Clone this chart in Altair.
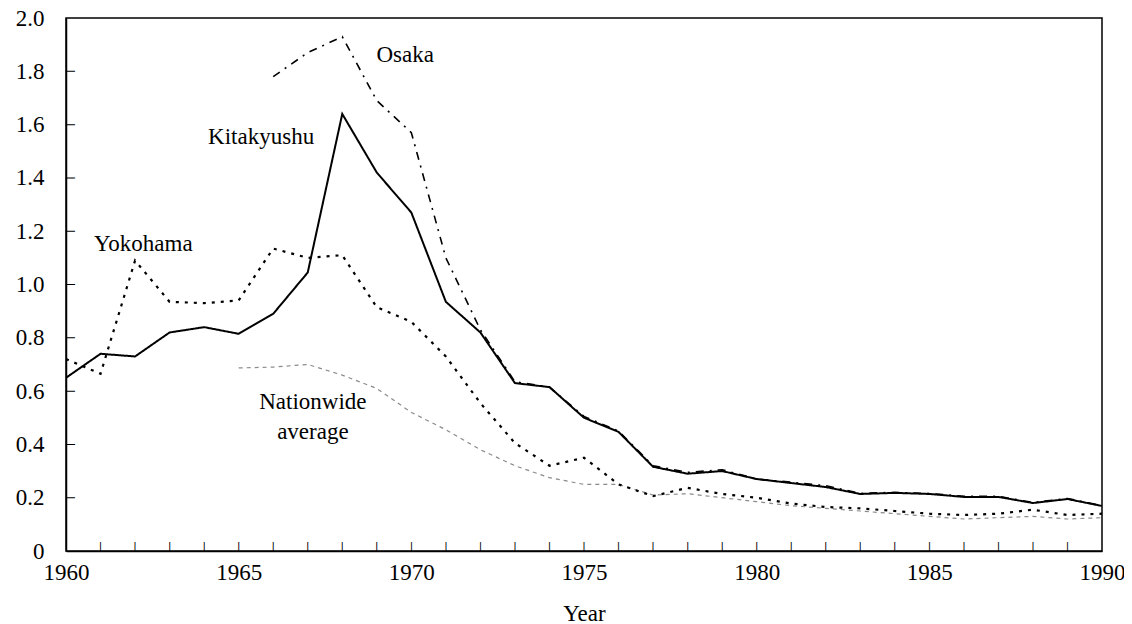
import altair as alt
import pandas as pd

# ---- data ----
years_k = list(range(1960, 1991))
kitakyushu = [0.65, 0.74, 0.73, 0.82, 0.84, 0.815, 0.89, 1.045, 1.64, 1.42, 1.27,
              0.935, 0.82, 0.63, 0.615, 0.50, 0.447, 0.316, 0.29, 0.30, 0.27,
              0.255, 0.24, 0.214, 0.218, 0.214, 0.203, 0.203, 0.18, 0.195, 0.169]

years_o = list(range(1966, 1991))
osaka = [1.78, 1.87, 1.93, 1.69, 1.57, 1.10, 0.83, 0.635, 0.615, 0.505, 0.45,
         0.32, 0.295, 0.305, 0.27, 0.258, 0.245, 0.216, 0.22, 0.216, 0.205,
         0.205, 0.182, 0.197, 0.17]

years_y = list(range(1960, 1991))
yokohama = [0.72, 0.665, 1.09, 0.935, 0.93, 0.94, 1.135, 1.10, 1.11, 0.915, 0.86,
            0.73, 0.555, 0.405, 0.32, 0.35, 0.25, 0.206, 0.237, 0.214, 0.20,
            0.178, 0.165, 0.16, 0.15, 0.14, 0.135, 0.14, 0.155, 0.135, 0.14]

years_n = list(range(1965, 1991))
nationwide = [0.687, 0.69, 0.70, 0.66, 0.61, 0.52, 0.455, 0.38, 0.32, 0.275,
              0.25, 0.25, 0.21, 0.215, 0.20, 0.185, 0.17, 0.16, 0.15, 0.14,
              0.13, 0.12, 0.125, 0.13, 0.12, 0.125]

label_text = ["Osaka", "Kitakyushu", "Yokohama", "Nationwide", "average"]
label_year = [1969.82, 1965.65, 1962.24, 1967.15, 1967.15]
label_value = [1.86, 1.553, 1.152, 0.559, 0.447]

y_labels = [0, 0.2, 0.4, 0.6, 0.8, 1.0, 1.2, 1.4, 1.6, 1.8, 2.0]
y_tick_values = [0.2, 0.4, 0.6, 0.8, 1.0, 1.2, 1.4, 1.6, 1.8]
x_labels = [1960, 1965, 1970, 1975, 1980, 1985, 1990]
x_tick_years = list(range(1961, 1990))

X_DOMAIN = [1960, 1990]
Y_DOMAIN = [0, 2.0]

rows = []
for yr, v in zip(years_k, kitakyushu):
    rows.append({"year": yr, "value": v, "series": "Kitakyushu"})
for yr, v in zip(years_o, osaka):
    rows.append({"year": yr, "value": v, "series": "Osaka"})
for yr, v in zip(years_y, yokohama):
    rows.append({"year": yr, "value": v, "series": "Yokohama"})
for yr, v in zip(years_n, nationwide):
    rows.append({"year": yr, "value": v, "series": "Nationwide average"})
df = pd.DataFrame(rows)

labels_df = pd.DataFrame({"text": label_text, "year": label_year, "value": label_value})
# tick anchors sit on the axis lines (domain minimum of the other scale)
ytick_df = pd.DataFrame({"value": y_tick_values, "year": [X_DOMAIN[0]] * len(y_tick_values)})
xtick_df = pd.DataFrame({"year": x_tick_years, "value": [Y_DOMAIN[0]] * len(x_tick_years)})

W, H = 1036, 533
FONT = "Liberation Serif"
TICK_FONT = 8

xscale = alt.Scale(domain=X_DOMAIN, nice=False, zero=False)
yscale = alt.Scale(domain=Y_DOMAIN, nice=False)

x_enc = alt.X("year:Q", scale=xscale, title="Year",
              axis=alt.Axis(values=x_labels, format="d", ticks=False, labelFlush=False,
                            labelPadding=10, titlePadding=18, grid=False))
y_enc = alt.Y("value:Q", scale=yscale, title=None,
              axis=alt.Axis(values=y_labels, ticks=False, labelPadding=22, labelFlush=False,
                            grid=False,
                            labelExpr="datum.value == 0 ? '0' : format(datum.value, '.1f')"))

def mk(name, color, dash, width):
    return alt.Chart(df).transform_filter(alt.datum.series == name).mark_line(
        color=color, strokeDash=dash, strokeWidth=width, clip=True
    ).encode(x=x_enc, y=y_enc)

nat = mk("Nationwide average", "#8a8a8a", [4, 4], 1.2)
yok = mk("Yokohama", "black", [3, 6], 2.2)
osa = mk("Osaka", "black", [8, 6, 2, 6], 1.6)
kit = mk("Kitakyushu", "black", [1, 0], 2.0)

labels = alt.Chart(labels_df).mark_text(font=FONT, fontSize=23, color="black",
                                        align="center", baseline="middle").encode(
    x=x_enc, y=y_enc, text="text:N",
)

# inward tick marks, drawn as bar glyphs positioned through the scales
xtick_marks = alt.Chart(xtick_df).mark_text(
    text="|", font="DejaVu Sans", fontSize=TICK_FONT, fontWeight="bold",
    color="black", align="center", baseline="bottom"
).encode(x=x_enc, y=y_enc)

ytick_marks = alt.Chart(ytick_df).mark_text(
    text="|", font="DejaVu Sans", fontSize=TICK_FONT, fontWeight="bold",
    color="black", align="center", baseline="middle", angle=90,
    xOffset=TICK_FONT / 2
).encode(x=x_enc, y=y_enc)

chart = alt.layer(nat, yok, osa, kit, labels, xtick_marks, ytick_marks).properties(
    width=W, height=H,
    autosize=alt.AutoSizeParams(type="none"),
    padding={"left": 58, "top": 10, "right": 22, "bottom": 85},
    background="white",
).configure_view(
    stroke="black", strokeWidth=1.5
).configure_axis(
    domainColor="black", domainWidth=1.5,
    labelFont=FONT, labelFontSize=23, labelColor="black",
    titleFont=FONT, titleFontSize=23, titleColor="black", titleFontWeight="normal",
)

chart.save("out.html", embed_options={"renderer": "svg", "actions": False})
